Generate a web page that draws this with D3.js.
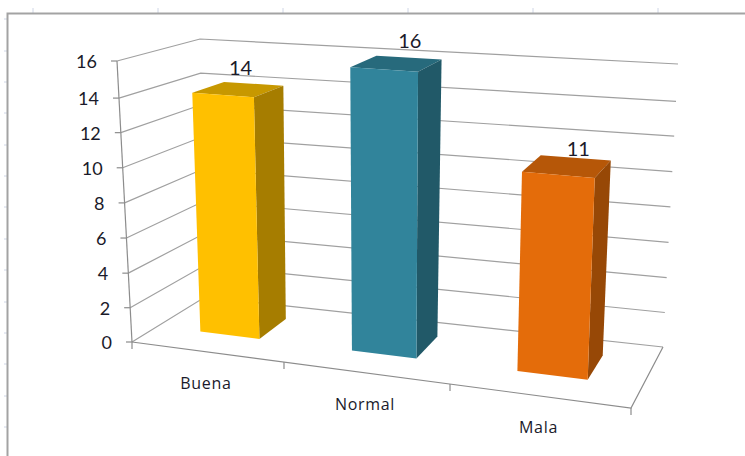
<!DOCTYPE html>
<html>
<head>
<meta charset="utf-8">
<script src="https://cdn.jsdelivr.net/npm/d3@7"></script>
<style>
  html, body { margin: 0; padding: 0; background: #fff; }
  svg { display: block; }
  text { font-family: Lato, "Open Sans", sans-serif; fill: #1a1a2a; }
  .cat text { font-family: "Open Sans", Lato, sans-serif; letter-spacing: 0.7px; }
</style>
</head>
<body>
<div id="chart"></div>
<script>
// Survey results shown as a 3D column chart on a worksheet
const categories = ["Buena", "Normal", "Mala"];
const values = [14, 16, 11];
const yTicks = [0, 2, 4, 6, 8, 10, 12, 14, 16];
const frontColors = ["#FFC000", "#31849B", "#E46C0A"];
const sideColors = ["#A67D00", "#215968", "#974806"];
const topColors = ["#C79800", "#276A7C", "#B65708"];
const sheetColumnTicks = [33, 158, 283, 408, 533, 658];
const sheetRowTicks = [19, 51, 82, 113, 145, 176, 207, 239, 270, 302, 333, 364, 396, 427];

const width = 745, height = 456;
const svg = d3.select("#chart").append("svg").attr("width", width).attr("height", height);

// Corners of the plot box on screen, [x, y]
const box = {
  floorFrontLeft: [132, 342], floorFrontRight: [631, 408],
  floorBackLeft: [205, 297], floorBackRight: [663, 347],
  topFrontLeft: [117, 61], topFrontRight: [643, 101],
  topBackLeft: [200, 39], topBackRight: [678, 64]
};
const lerp = (a, b, t) => [a[0] + (b[0] - a[0]) * t, a[1] + (b[1] - a[1]) * t];

// Category position along the width, with foreshortening towards the viewer's left
const catScale = d3.scaleLinear().domain([0, 1, 2, 3]).range([0, 0.3046, 0.6373, 1]);
// Height fraction of each tick: the perspective compresses the top of the box slightly
const valScale = d3.scaleLinear().domain(yTicks)
  .range([0, 0.122, 0.245, 0.37, 0.495, 0.62, 0.745, 0.868, 1]);

// Maps (category position, depth 0..1, value) onto the screen
function project(c, d, v) {
  const f = catScale(c), h = valScale(v);
  const floor = lerp(lerp(box.floorFrontLeft, box.floorFrontRight, f),
                     lerp(box.floorBackLeft, box.floorBackRight, f), d);
  const ceil = lerp(lerp(box.topFrontLeft, box.topFrontRight, f),
                    lerp(box.topBackLeft, box.topBackRight, f), d);
  return lerp(floor, ceil, h);
}
const line = d3.line();
const poly = pts => line(pts) + "Z";

// Worksheet cell marks and the chart area border
const sheet = svg.append("g");
sheet.selectAll("line.col").data(sheetColumnTicks).join("line").attr("class", "col")
  .attr("x1", d => d).attr("x2", d => d).attr("y1", 8).attr("y2", 13)
  .attr("stroke", "#cfd6e6").attr("stroke-width", 1);
sheet.selectAll("line.row").data(sheetRowTicks).join("line").attr("class", "row")
  .attr("x1", 4).attr("x2", 7).attr("y1", d => d).attr("y2", d => d)
  .attr("stroke", "#cfd6e6").attr("stroke-width", 1);
sheet.append("path")
  .attr("d", line([[7.5, height], [7.5, 13.5], [width, 13.5]]))
  .attr("fill", "none").attr("stroke", "#a3a3a3").attr("stroke-width", 2);

// Gridlines along the left and back walls
const grid = svg.append("g").attr("fill", "none").attr("stroke", "#a0a0a0").attr("stroke-width", 1.2);
yTicks.forEach(v => {
  grid.append("path").attr("d", line([project(0, 0, v), project(0, 1, v), project(3, 1, v)]));
});

// Floor outline and value axis with its ticks
const axes = svg.append("g").attr("fill", "none").attr("stroke", "#8c8c8c").attr("stroke-width", 1.2);
axes.append("path").attr("d", line([project(0, 0, 0), project(3, 0, 0), project(3, 1, 0)]));
axes.append("path").attr("d", line([project(0, 0, 0), project(0, 0, 16)]));
yTicks.forEach(v => {
  const p = project(0, 0, v);
  axes.append("path").attr("d", line([[p[0] - 6, p[1]], p]));
});
[0, 1, 2, 3].forEach(c => {
  const p = project(c, 0, 0);
  axes.append("path").attr("d", line([p, [p[0], p[1] + 7]]));
});

// Columns: each sits near the middle of its category slot and depth band
const barCenter = 0.49, halfWidth = 0.2, depthFront = 0.35, depthBack = 0.76;
const bars = svg.append("g");
categories.forEach((name, i) => {
  const c0 = i + barCenter - halfWidth, c1 = i + barCenter + halfWidth, v = values[i];
  bars.append("path").attr("fill", topColors[i]).attr("d", poly([
    project(c0, depthFront, v), project(c1, depthFront, v), project(c1, depthBack, v), project(c0, depthBack, v)]));
  bars.append("path").attr("fill", sideColors[i]).attr("d", poly([
    project(c1, depthFront, 0), project(c1, depthBack, 0), project(c1, depthBack, v), project(c1, depthFront, v)]));
  bars.append("path").attr("fill", frontColors[i]).attr("d", poly([
    project(c0, depthFront, 0), project(c1, depthFront, 0), project(c1, depthFront, v), project(c0, depthFront, v)]));
});

// Value labels above the columns, each nudged clear of its gridline
const labelShiftX = [2.5, 13.5, 11.5];
const labelShiftY = [-15, -16, -11];
svg.append("g").selectAll("text").data(values).join("text")
  .attr("x", (d, i) => project(i + barCenter, 0.55, d)[0] + labelShiftX[i])
  .attr("y", (d, i) => project(i + barCenter, 0.55, d)[1] + labelShiftY[i])
  .attr("text-anchor", "middle").attr("font-size", 20).text(d => d);

// Value axis labels
svg.append("g").selectAll("text").data(yTicks).join("text")
  .attr("x", d => project(0, 0, d)[0] - 20)
  .attr("y", d => project(0, 0, d)[1] + 7)
  .attr("text-anchor", "end").attr("font-size", 18).text(d => d);

// Category labels under the front edge
svg.append("g").attr("class", "cat").selectAll("text").data(categories).join("text")
  .attr("x", (d, i) => project(i + 0.5, 0, 0)[0] - 2)
  .attr("y", (d, i) => project(i + 0.5, 0, 0)[1] + 37)
  .attr("text-anchor", "middle").attr("font-size", 16).text(d => d);
</script>
</body>
</html>
